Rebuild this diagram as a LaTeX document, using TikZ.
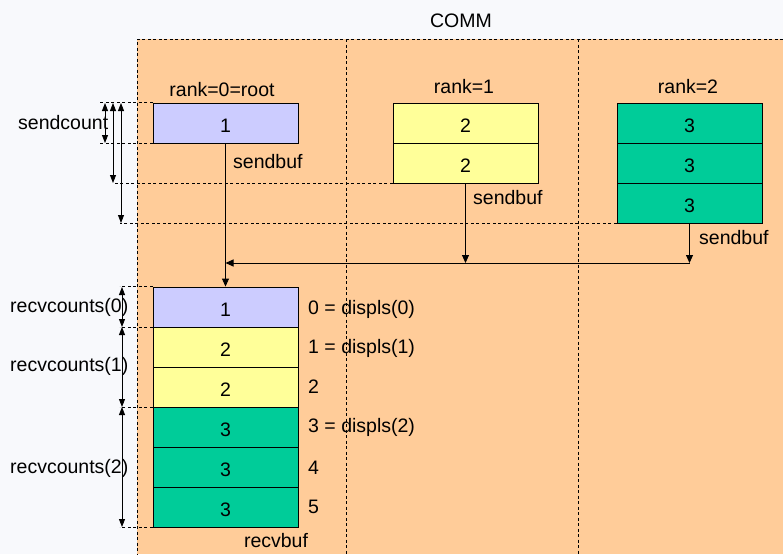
\documentclass[tikz,border=0pt]{standalone}
\usepackage{fontspec}
\setmainfont{Liberation Sans}
\usetikzlibrary{arrows.meta}
\definecolor{bgtop}{RGB}{248,249,252}
\definecolor{commorange}{RGB}{255,204,153}
\definecolor{lav}{RGB}{204,204,255}
\definecolor{yel}{RGB}{255,255,153}
\definecolor{grn}{RGB}{0,204,153}
\newcommand{\cellnum}[1]{\raisebox{-2.5pt}[14pt][0pt]{#1}}
\tikzset{
  txt/.style={font=\fontsize{19.5}{22}\selectfont, inner sep=0pt},
  cell/.style={draw=black, line width=0.9pt, minimum width=145pt, minimum height=40pt, inner sep=0pt, font=\fontsize{19.5}{22}\selectfont},
  guide/.style={line width=0.8pt, dash pattern=on 3pt off 2.5pt},
  arr/.style={line width=0.9pt, -{Triangle[length=8pt,width=7pt]}},
  dim/.style={line width=0.9pt, {Triangle[length=8pt,width=6pt]}-{Triangle[length=8pt,width=6pt]}},
}
\begin{document}
\begin{tikzpicture}[x=1pt,y=-1pt]
\useasboundingbox (0,0) rectangle (783,554);
\fill[bgtop] (0,0) rectangle (783,554);
\fill[commorange] (137,39) rectangle (783,554);
\draw[guide] (783,39) -- (137,39) -- (137,554);
\draw[guide] (346,39) -- (346,554);
\draw[guide] (578,39) -- (578,554);

\node[txt] (comm) at (461,21) {COMM};
\node[txt] (r0lab) at (222,90) {rank=0=root};
\node[txt] (r1lab) at (464,87) {rank=1};
\node[txt] (r2lab) at (688,87) {rank=2};

% send buffers
\node[cell, fill=lav] (s0) at (225.5,123) {\cellnum{1}};
\node[cell, fill=yel] (s1a) at (465.5,123) {\cellnum{2}};
\node[cell, fill=yel] (s1b) at (465.5,163) {\cellnum{2}};
\node[cell, fill=grn] (s2a) at (689.5,123) {\cellnum{3}};
\node[cell, fill=grn] (s2b) at (689.5,163) {\cellnum{3}};
\node[cell, fill=grn] (s2c) at (689.5,203) {\cellnum{3}};

\node[txt, anchor=west] (sb0) at (233,162) {sendbuf};
\node[txt, anchor=west] (sb1) at (473,198) {sendbuf};
\node[txt, anchor=west] (sb2) at (699,238) {sendbuf};

% receive buffer
\node[cell, fill=lav] (q0) at (225.5,307) {\cellnum{1}};
\node[cell, fill=yel] (q1) at (225.5,347) {\cellnum{2}};
\node[cell, fill=yel] (q2) at (225.5,387) {\cellnum{2}};
\node[cell, fill=grn] (q3) at (225.5,427) {\cellnum{3}};
\node[cell, fill=grn] (q4) at (225.5,467) {\cellnum{3}};
\node[cell, fill=grn] (q5) at (225.5,507) {\cellnum{3}};
\node[txt] (rb) at (276,541) {recvbuf};

\node[txt, anchor=west] (d0) at (308,309) {0 = displs(0)};
\node[txt, anchor=west] (d1) at (308,348) {1 = displs(1)};
\node[txt, anchor=west] (d2) at (308,387) {2};
\node[txt, anchor=west] (d3) at (308,427) {3 = displs(2)};
\node[txt, anchor=west] (d4) at (308,468) {4};
\node[txt, anchor=west] (d5) at (308,507) {5};

% guide lines (send side)
\draw[guide] (s0.north west) -- ++(-53,0);
\draw[guide] (s0.south west) -- ++(-53,0);
\draw[guide] (s1b.south west) -- ++(-280,0);
\draw[guide] (s2c.south west) -- ++(-497,0);

% guide lines (recv side)
\draw[guide] (q0.north west) -- ++(-33,0);
\draw[guide] (q0.south west) -- ++(-33,0);
\draw[guide] (q2.south west) -- ++(-33,0);
\draw[guide] (q5.south west) -- ++(-33,0);

% dimension arrows
\draw[dim] (105,103) -- (105,143);
\draw[dim] (113,103) -- (113,183);
\draw[dim] (121,103) -- (121,223);
\draw[dim] (122,287) -- (122,327);
\draw[dim] (122,327) -- (122,407);
\draw[dim] (122,407) -- (122,527);

\node[txt, anchor=west] (scnt) at (18,123) {sendcount};
\node[txt, anchor=west] (rc0) at (10,307) {recvcounts(0)};
\node[txt, anchor=west] (rc1) at (10,366) {recvcounts(1)};
\node[txt, anchor=west] (rc2) at (10,468) {recvcounts(2)};

% gather connectors
\coordinate (j0) at (225.5,263);
\coordinate (j1) at (465.5,263);
\coordinate (j2) at (689.5,263);
\draw[arr] (s0.south) -- (q0.north);
\draw[arr] (s1b.south) -- (j1);
\draw[arr] (s2c.south) -- (j2);
\draw[arr] (j2) -- (j0);
\end{tikzpicture}
\end{document}
